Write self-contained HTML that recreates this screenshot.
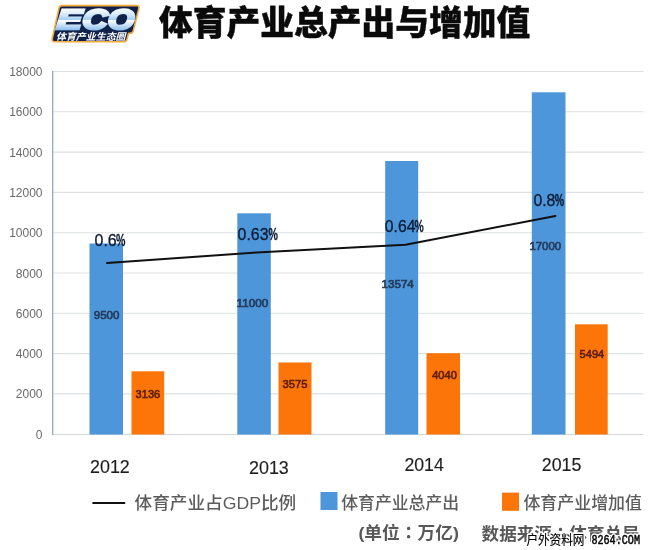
<!DOCTYPE html>
<html lang="zh">
<head>
<meta charset="utf-8">
<title>体育产业总产出与增加值</title>
<style>
html,body{margin:0;padding:0;background:#fff;}
body{width:650px;height:550px;overflow:hidden;position:relative;}
svg{position:absolute;left:0;top:0;display:block;filter:blur(0.45px);}
.num{font-family:"Liberation Sans",sans-serif;}
.cjk{font-family:"Liberation Sans","Noto Sans CJK SC",sans-serif;}
</style>
</head>
<body>
<svg width="650" height="550" viewBox="0 0 650 550">
<defs>
<linearGradient id="eco" gradientUnits="userSpaceOnUse" x1="0" y1="8" x2="0" y2="30">
<stop offset="0" stop-color="#ffffff"/>
<stop offset="0.3" stop-color="#d6eafc"/>
<stop offset="0.52" stop-color="#a6cff4"/>
<stop offset="0.56" stop-color="#ffffff"/>
<stop offset="1" stop-color="#8fc0ee"/>
</linearGradient>
</defs>
<rect width="650" height="550" fill="#ffffff"/>

<!-- gridlines -->
<g stroke="#dde1e4" stroke-width="1.1" fill="none">
<line x1="53" y1="71.5" x2="643.5" y2="71.5"/>
<line x1="53" y1="111.8" x2="643.5" y2="111.8"/>
<line x1="53" y1="152.1" x2="643.5" y2="152.1"/>
<line x1="53" y1="192.4" x2="643.5" y2="192.4"/>
<line x1="53" y1="232.7" x2="643.5" y2="232.7"/>
<line x1="53" y1="273" x2="643.5" y2="273"/>
<line x1="53" y1="313.3" x2="643.5" y2="313.3"/>
<line x1="53" y1="353.6" x2="643.5" y2="353.6"/>
<line x1="53" y1="393.9" x2="643.5" y2="393.9"/>
<line x1="53" y1="434.5" x2="643.5" y2="434.5" stroke="#d3d7db"/>
</g>
<line x1="52.7" y1="71" x2="52.7" y2="435" stroke="#88a3b2" stroke-width="1.2"/>

<!-- y labels -->
<g class="num" font-size="12" fill="#6a6a6a" text-anchor="end">
<text x="42.5" y="76">18000</text>
<text x="42.5" y="116.3">16000</text>
<text x="42.5" y="156.6">14000</text>
<text x="42.5" y="196.9">12000</text>
<text x="42.5" y="237.2">10000</text>
<text x="42.5" y="277.5">8000</text>
<text x="42.5" y="317.8">6000</text>
<text x="42.5" y="358.1">4000</text>
<text x="42.5" y="398.4">2000</text>
<text x="42.5" y="438.7">0</text>
</g>

<!-- bars -->
<g fill="#4d96d9">
<rect x="89.5" y="243.5" width="33.5" height="191"/>
<rect x="237.3" y="213.3" width="33.5" height="221.2"/>
<rect x="385.2" y="161" width="33" height="273.5"/>
<rect x="531.8" y="92.3" width="33.7" height="342.2"/>
</g>
<g fill="#fc7509">
<rect x="131.5" y="371.3" width="32.7" height="63.2"/>
<rect x="278.5" y="362.5" width="33" height="72"/>
<rect x="426.5" y="353.2" width="33.5" height="81.3"/>
<rect x="575" y="324.3" width="32.7" height="110.2"/>
</g>

<!-- line -->
<polyline points="107,263 256.5,252.5 405.5,244.8 555.4,216" fill="none" stroke="#111" stroke-width="2" stroke-linejoin="round" stroke-linecap="round"/>

<!-- percentage labels -->
<g class="num" font-size="17" fill="#0b1a33" stroke="#0b1a33" stroke-width="0.3">
<text x="94.5" y="246.2" textLength="22.2" lengthAdjust="spacingAndGlyphs">0.6</text><text x="116" y="246.2" textLength="9.4" lengthAdjust="spacingAndGlyphs" font-weight="bold">%</text>
<text x="237.6" y="240.3" textLength="31" lengthAdjust="spacingAndGlyphs">0.63</text><text x="268.5" y="240.3" textLength="9.4" lengthAdjust="spacingAndGlyphs" font-weight="bold">%</text>
<text x="384.8" y="232" textLength="30.6" lengthAdjust="spacingAndGlyphs">0.64</text><text x="414.6" y="232" textLength="9.2" lengthAdjust="spacingAndGlyphs" font-weight="bold">%</text>
<text x="533.4" y="206.4" textLength="22" lengthAdjust="spacingAndGlyphs">0.8</text><text x="554.8" y="206.4" textLength="9.4" lengthAdjust="spacingAndGlyphs" font-weight="bold">%</text>
</g>

<!-- value labels -->
<g class="num" font-size="11.6" fill="#24395a" stroke="#24395a" stroke-width="0.65">
<text x="93.8" y="318.7" textLength="25.6" lengthAdjust="spacingAndGlyphs">9500</text>
<text x="236.6" y="306.5" textLength="31.6" lengthAdjust="spacingAndGlyphs">11000</text>
<text x="381.6" y="288.1" textLength="32.2" lengthAdjust="spacingAndGlyphs">13574</text>
<text x="529.4" y="250.4" textLength="31.8" lengthAdjust="spacingAndGlyphs">17000</text>
</g>
<g class="num" font-size="11.6" fill="#5c1d08" stroke="#5c1d08" stroke-width="0.65">
<text x="135.6" y="397.9" textLength="24.6" lengthAdjust="spacingAndGlyphs">3136</text>
<text x="282.6" y="387.9" textLength="25" lengthAdjust="spacingAndGlyphs">3575</text>
<text x="432.2" y="378.7" textLength="24.6" lengthAdjust="spacingAndGlyphs">4040</text>
<text x="579.6" y="358.3" textLength="24.6" lengthAdjust="spacingAndGlyphs">5494</text>
</g>

<!-- year labels -->
<g class="num" font-size="18.2" fill="#1e1e1e" stroke="#1e1e1e" stroke-width="0.15">
<text x="90" y="473.2" textLength="39.8" lengthAdjust="spacingAndGlyphs">2012</text>
<text x="249" y="473.6" textLength="39.8" lengthAdjust="spacingAndGlyphs">2013</text>
<text x="404.4" y="470.6" textLength="39.4" lengthAdjust="spacingAndGlyphs">2014</text>
<text x="541.8" y="470.6" textLength="39.6" lengthAdjust="spacingAndGlyphs">2015</text>
</g>

<!-- legend -->
<line x1="92.4" y1="503" x2="125.2" y2="503" stroke="#111" stroke-width="2"/>
<rect x="320.5" y="492" width="17" height="18" fill="#4d96d9"/>
<rect x="502" y="492.6" width="17" height="18.2" fill="#fc7509"/>
<g class="cjk" font-size="17" fill="#5c5c5c" font-weight="500">
<text x="134.6" y="508.8" font-size="16.5" textLength="161.6" lengthAdjust="spacingAndGlyphs">体育产业占GDP比例</text>
<text x="341.2" y="508.8" font-size="16.5" textLength="118" lengthAdjust="spacingAndGlyphs">体育产业总产出</text>
<text x="523.4" y="508.8" font-size="16.5" textLength="118.6" lengthAdjust="spacingAndGlyphs">体育产业增加值</text>
<text x="358.4" y="539.4" textLength="100.6" lengthAdjust="spacingAndGlyphs" font-weight="700" fill="#585858">(单位<tspan lang="zh-TW" font-family="'Liberation Sans','Noto Sans CJK TC',sans-serif">：</tspan>万亿)</text>
<text x="481.6" y="539.8" textLength="158" lengthAdjust="spacingAndGlyphs" font-weight="700" fill="#585858">数据来源<tspan lang="zh-TW" font-family="'Liberation Sans','Noto Sans CJK TC',sans-serif">：</tspan>体育总局</text>
</g>

<!-- watermark -->
<g fill="#fff" stroke="#fff" stroke-width="3.6" stroke-linejoin="round">
<text class="cjk" font-size="13" x="526.4" y="543.6" textLength="58" lengthAdjust="spacingAndGlyphs">户外资料网</text>
<text font-family="'Liberation Mono',monospace" font-size="12.6" x="591.4" y="543.5" textLength="48.6" lengthAdjust="spacingAndGlyphs">8264.COM</text>
</g>
<g fill="#000" stroke="#000">
<text class="cjk" font-size="13" x="526.4" y="543.6" textLength="58" lengthAdjust="spacingAndGlyphs" stroke-width="0.15">户外资料网</text>
<text font-family="'Liberation Mono',monospace" font-size="12.6" x="591.4" y="543.5" textLength="48.6" lengthAdjust="spacingAndGlyphs" stroke-width="0.5">8264.COM</text>
</g>

<!-- title -->
<text class="cjk" x="158.9" y="35.4" font-size="34.2" font-weight="900" fill="#0a0a0a" stroke="#0a0a0a" stroke-width="0.4" stroke-linejoin="round" textLength="371.4" lengthAdjust="spacingAndGlyphs">体育产业总产出与增加值</text>

<!-- logo -->
<g>
<path d="M62,5.6 L136.5,5.6 Q139.6,5.6 138.8,8.6 L133.2,31 Q132.6,33.2 130,33.2 L128.6,33.2 L127,39.2 Q126.4,41.7 123.6,41.7 L54.6,41.7 Q51.6,41.7 52.2,38.8 L59,8 Q59.6,5.6 62,5.6 Z" fill="#10224a" stroke="#f5aa3a" stroke-width="1.6" stroke-linejoin="round"/>
<g font-family="'Liberation Sans',sans-serif" font-style="italic" font-weight="bold">
<g font-size="28" stroke-linejoin="miter" stroke-miterlimit="6" stroke-width="2.6" transform="translate(1.53,0) skewX(-3)">
<text x="56.2" y="29.2" textLength="25.2" lengthAdjust="spacingAndGlyphs" fill="url(#eco)" stroke="url(#eco)">E</text>
<text x="82" y="29.2" textLength="25.2" lengthAdjust="spacingAndGlyphs" fill="url(#eco)" stroke="url(#eco)">C</text>
<text x="107.6" y="29.2" textLength="26.2" lengthAdjust="spacingAndGlyphs" fill="url(#eco)" stroke="url(#eco)">O</text>
</g>
<text class="cjk" x="56" y="40.2" font-size="9.5" textLength="69.5" lengthAdjust="spacingAndGlyphs" fill="#ffffff" font-style="italic" font-weight="bold">体育产业生态圈</text>
</g>
</g>
</svg>
</body>
</html>
